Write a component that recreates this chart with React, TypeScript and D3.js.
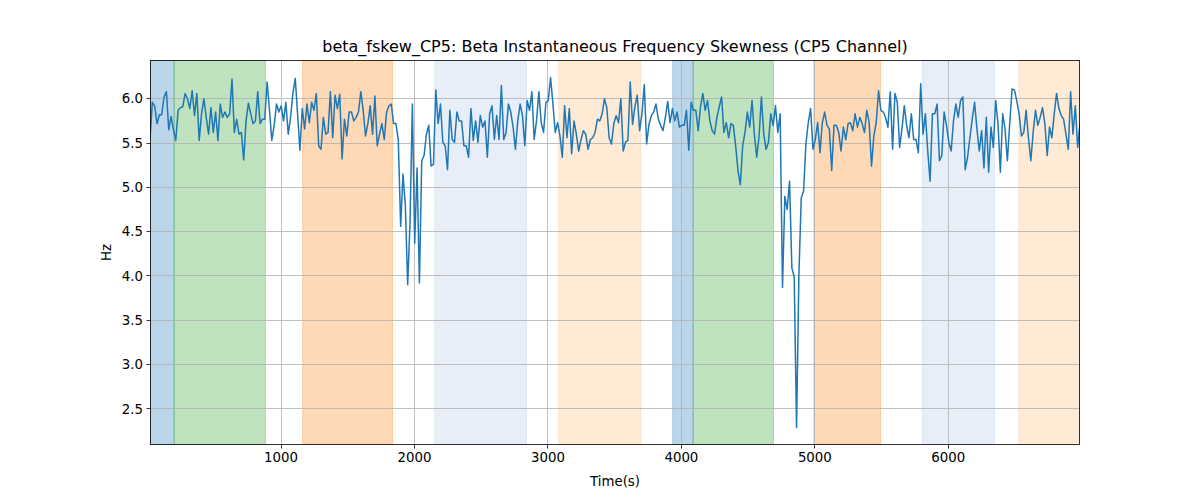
import React from 'react';
import * as d3 from 'd3';

// ---- data ----
const seg1 = [5.55, 5.96, 5.92, 5.72, 5.82, 5.82, 6.02, 6.08, 5.65, 5.80, 5.65, 5.53, 5.87, 5.90, 5.91, 6.06, 6.00, 5.89, 6.09, 5.81, 6.06, 5.53, 5.83, 6.00, 5.79, 5.60, 5.90, 5.62, 5.85, 5.53, 5.94, 5.79, 5.85, 5.79, 5.83, 6.22, 5.62, 5.77, 5.60, 5.62, 5.31, 5.75, 5.95, 5.83, 5.72, 5.75, 6.08, 5.72, 5.77, 5.77, 6.19, 5.87, 5.53, 5.70, 5.94, 5.85, 5.92, 5.75, 5.96, 5.60, 5.79, 6.06, 6.23, 5.83, 5.42, 5.89];
const seg2 = [5.66, 5.94, 5.73, 5.96, 5.87, 6.06, 5.47, 5.43, 5.79, 5.60, 5.62, 6.08, 5.56, 6.04, 5.89, 6.05, 5.32, 5.77, 5.58, 5.85, 5.85, 5.75, 5.79, 5.85, 6.08, 5.87, 5.58, 5.72, 5.92, 5.60, 6.03, 5.47, 5.60, 5.72, 5.54, 5.85, 5.92, 5.94, 5.72, 5.72, 5.53, 4.56, 5.15, 4.80, 3.90, 4.60, 5.94, 4.37, 5.22, 3.92, 5.30, 5.36, 5.60, 5.70, 5.24, 5.26, 6.10, 5.72, 5.94, 5.51, 5.47, 5.20, 5.87, 5.54, 5.51, 5.85, 5.75, 5.75, 5.47];
const seg3 = [5.47, 5.34, 5.89, 5.53, 5.75, 5.51, 5.81, 5.68, 5.75, 5.34, 5.83, 5.92, 5.54, 5.81, 5.54, 6.15, 5.54, 5.62, 5.94, 5.85, 5.68, 5.43, 5.75, 5.94, 5.81, 5.47, 5.98, 5.87, 6.08, 5.54, 5.75, 6.08, 5.73, 5.62, 5.96, 5.98, 6.24, 5.94, 5.62, 5.73, 5.58, 5.34, 5.92, 5.56, 5.89, 5.38, 5.75, 5.60, 5.41, 5.54, 5.64, 5.60, 5.43, 5.54, 5.56, 5.62, 5.77, 5.75, 5.83, 6.00, 5.90, 5.56, 5.49, 5.72, 5.81];
const seg4 = [5.73, 6.00, 5.41, 5.51, 5.53, 6.19, 5.71, 5.91, 6.04, 5.64, 5.83, 6.16, 5.49, 5.71, 5.81, 5.85, 5.94, 5.77, 5.70, 5.64, 5.79, 5.97, 5.73, 5.89, 5.75, 5.85, 5.68, 5.70, 5.70, 5.87, 5.42, 5.96, 5.87, 5.87, 5.64, 5.91, 6.06, 5.87, 5.98, 5.75, 5.64, 5.60, 5.79, 5.91, 6.02, 5.62, 5.73, 5.56, 5.72, 5.70, 5.47, 5.19, 5.03, 5.47, 5.62, 5.85, 5.68, 5.98, 5.60, 5.34, 5.58, 6.02, 5.60, 5.43, 5.51, 5.83];
const seg5 = [5.70, 5.92, 5.62, 5.83, 3.87, 4.90, 4.75, 5.07, 4.09, 3.99, 2.29, 4.01, 4.88, 4.96, 5.49, 5.73, 5.89, 5.43, 5.54, 5.73, 5.39, 5.73, 5.85, 5.70, 5.66, 5.19, 5.70, 5.70, 5.62, 5.41, 5.68, 5.54, 5.72, 5.73, 5.64, 5.83, 5.68, 5.79, 5.72, 5.62, 5.87, 5.73, 5.24, 5.58, 5.73, 6.09, 5.87, 5.85, 5.79, 5.68, 6.08, 5.43, 6.06, 5.96, 5.45, 5.66, 5.92, 5.70, 5.56, 5.83, 5.54, 5.54, 5.39, 6.17, 5.60, 5.83, 5.41, 5.07];
const seg6 = [5.83, 5.83, 5.94, 5.30, 5.36, 5.85, 5.70, 5.51, 5.41, 5.75, 5.94, 5.79, 5.98, 6.02, 5.20, 5.34, 5.56, 5.77, 5.96, 5.66, 5.41, 5.64, 5.22, 5.79, 5.17, 5.68, 5.45, 5.98, 5.72, 5.17, 5.83, 5.66, 5.30, 5.72, 6.11, 6.10, 5.98, 5.83, 5.58, 5.62, 5.87, 5.56, 5.30, 5.62, 5.87, 5.70, 5.79, 5.90, 5.72, 5.36, 5.68, 5.56, 5.83, 6.06, 5.89, 5.81, 5.77, 5.60, 5.43, 6.08, 5.60, 5.92, 5.45, 5.72];
const values = [...seg1, ...seg2, ...seg3, ...seg4, ...seg5, ...seg6];

const timeStart = 18;
const timeEnd = 6987;

const spanStarts = [18, 199, 1162, 2152, 3081, 3935, 4088, 4992, 5807, 6529];
const spanEnds = [199, 883, 1835, 2839, 3696, 4088, 4690, 5492, 6346, 7000];
const spanColors = ['#1f77b4', '#2ca02c', '#ff7f0e', '#aec7e8', '#ffbb78', '#1f77b4', '#2ca02c', '#ff7f0e', '#aec7e8', '#ffbb78'];

const xTicks = [1000, 2000, 3000, 4000, 5000, 6000];
const yTicks = [2.5, 3.0, 3.5, 4.0, 4.5, 5.0, 5.5, 6.0];

const titleText = 'beta_fskew_CP5: Beta Instantaneous Frequency Skewness (CP5 Channel)';
const xLabel = 'Time(s)';
const yLabel = 'Hz';

const snap = (v: number) => Math.round(v - 0.5) + 0.5;

export default function App() {
  const W = 1200, H = 500;
  const left = 150, right = 1080, top = 60, bottom = 445;
  const font = 'DejaVu Sans, sans-serif';

  const n = values.length;
  const times = values.map((_, i) => timeStart + (i * (timeEnd - timeStart)) / (n - 1));
  const points = values.map((v, i) => [times[i], v] as [number, number]);

  const x = d3.scaleLinear().domain([timeStart, timeEnd]).range([left, right]);
  const [vmin, vmax] = d3.extent(values) as [number, number];
  const pad = (vmax - vmin) * 0.05;
  const y = d3.scaleLinear().domain([vmin - pad, vmax + pad]).range([bottom, top]);

  const line = d3.line<[number, number]>().x(d => x(d[0])).y(d => y(d[1]));

  return (
    <svg width={W} height={H} style={{ position: 'absolute', left: 0, top: 0, background: '#fff' }} fontFamily={font}>
      <defs>
        <clipPath id="plotclip">
          <rect x={left} y={top} width={right - left} height={bottom - top} />
        </clipPath>
      </defs>
      <rect x={0} y={0} width={W} height={H} fill="#fff" />
      <g clipPath="url(#plotclip)">
        {spanStarts.map((s, i) => (
          <rect key={i} x={x(s)} y={top} width={x(spanEnds[i]) - x(s)} height={bottom - top}
            fill={spanColors[i]} fillOpacity={0.3} stroke={spanColors[i]} strokeOpacity={0.3} strokeWidth={1} />
        ))}
      </g>
      {/* grid */}
      {xTicks.map(t => (
        <line key={'gx' + t} x1={snap(x(t))} x2={snap(x(t))} y1={top} y2={bottom} stroke="#b0b0b0" strokeWidth={0.8} />
      ))}
      {yTicks.map(t => (
        <line key={'gy' + t} x1={left} x2={right} y1={snap(y(t))} y2={snap(y(t))} stroke="#b0b0b0" strokeWidth={0.8} />
      ))}
      <g clipPath="url(#plotclip)">
        <path d={line(points) || ''} fill="none" stroke="#1f77b4" strokeWidth={1.5} strokeLinejoin="round" strokeLinecap="square" />
      </g>
      {/* frame */}
      <rect x={left + 0.5} y={top + 0.5} width={right - left - 1} height={bottom - top - 1} fill="none" stroke="#000" strokeWidth={0.8} />
      {/* x ticks */}
      {xTicks.map(t => (
        <g key={'tx' + t}>
          <line x1={snap(x(t))} x2={snap(x(t))} y1={bottom} y2={bottom + 3.5} stroke="#000" strokeWidth={0.8} />
          <text x={x(t)} y={bottom + 17} fontSize={13.33} textAnchor="middle" fill="#000">{t}</text>
        </g>
      ))}
      {/* y ticks */}
      {yTicks.map(t => (
        <g key={'ty' + t}>
          <line x1={left - 3.5} x2={left} y1={snap(y(t))} y2={snap(y(t))} stroke="#000" strokeWidth={0.8} />
          <text x={left - 7} y={y(t)} dy="0.35em" fontSize={13.33} textAnchor="end" fill="#000">{t.toFixed(1)}</text>
        </g>
      ))}
      <text x={(left + right) / 2} y={52} fontSize={16} textAnchor="middle" fill="#000">{titleText}</text>
      <text x={(left + right) / 2} y={486} fontSize={13.33} textAnchor="middle" fill="#000">{xLabel}</text>
      <text transform={`translate(111, ${(top + bottom) / 2}) rotate(-90)`} fontSize={13.33} textAnchor="middle" fill="#000">{yLabel}</text>
    </svg>
  );
}
